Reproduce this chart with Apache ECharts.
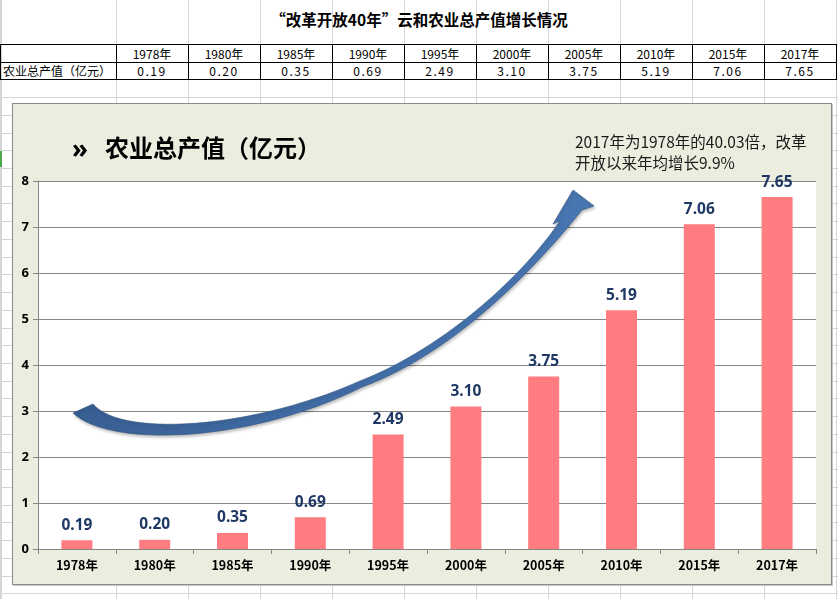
<!DOCTYPE html>
<html><head><meta charset="utf-8">
<script src="https://cdn.jsdelivr.net/npm/echarts@6/dist/echarts.min.js"></script>
<style>
html,body{margin:0;padding:0;background:#fff;width:838px;height:599px;overflow:hidden;font-family:"Noto Sans CJK SC","Noto Sans",sans-serif;}
#sheet{position:absolute;left:0;top:0;width:838px;height:599px;}
#frame{position:absolute;left:12px;top:103px;width:818px;height:480px;background:#EBEEDF;border:1px solid #8a8a8a;box-shadow:1px 1px 0 #c8c8c8;}
#chart{position:absolute;left:0;top:0;width:838px;height:599px;}
.gl{position:absolute;background:#D6D6D6;}
.bl{position:absolute;background:#000;}
.cell{position:absolute;font-size:12px;color:#000;line-height:17px;height:17px;text-align:center;white-space:nowrap;}
#title{position:absolute;left:0;width:838px;top:8px;text-align:center;font-size:15.5px;font-weight:bold;color:#000;}
</style></head>
<body>
<div id="sheet"></div>
<div id="frame"></div>
<div id="chart"></div>
<script>
const categories = ['1978年','1980年','1985年','1990年','1995年','2000年','2005年','2010年','2015年','2017年'];
const values = [0.19,0.20,0.35,0.69,2.49,3.10,3.75,5.19,7.06,7.65];
const rowLabel = '农业总产值（亿元）';
const sheetTitle = '“改革开放40年”云和农业总产值增长情况';
const chartTitle = '农业总产值（亿元）';
const noteLines = ['2017年为1978年的40.03倍，改革','开放以来年均增长9.9%'];
const yTicks = [0,1,2,3,4,5,6,7,8];

const sheet = document.getElementById('sheet');
function add(cls, l, t, w, h, txt){const d=document.createElement('div');d.className=cls;d.style.left=l+'px';d.style.top=t+'px';if(w!=null)d.style.width=w+'px';if(h!=null)d.style.height=h+'px';if(txt!=null)d.textContent=txt;sheet.appendChild(d);return d;}
const colX=[1]; for(let i=0;i<=10;i++) colX.push(116+72*i);
colX.forEach(x=>add('gl',x,0,1,599));
for(let k=0;k<34;k++){const y=Math.round(44+17.72*k); if(y<599) add('gl',0,y,838,1);}
add('gl',0,0,1,599);
const gm=add('gl',0,151,2,16); gm.style.background='#4CA64C';
const t=document.createElement('div');t.id='title';t.textContent=sheetTitle;sheet.appendChild(t);
add('bl',0,44,837,1); add('bl',0,62,837,1); add('bl',0,79,837,1);
colX.slice(1).forEach(x=>add('bl',x,44,1,36));
add('bl',0,44,1,36);
const lc=add('cell',3,62,112,null,rowLabel); lc.style.textAlign='left';
categories.forEach((c,i)=>{
  add('cell',116+72*i,45,72,null,c);
  const v=add('cell',116+72*i,62,72,null,values[i].toFixed(2)); v.style.letterSpacing='1.5px';
});

// decorative curved arrow outline (sampled cubic beziers)
function bez(p0,p1,p2,p3,n){const out=[];for(let i=0;i<=n;i++){const s=i/n,u=1-s;
  out.push([u*u*u*p0[0]+3*u*u*s*p1[0]+3*u*s*s*p2[0]+s*s*s*p3[0], u*u*u*p0[1]+3*u*u*s*p1[1]+3*u*s*s*p2[1]+s*s*s*p3[1]]);}return out;}
const arrowPts=[].concat(
  [[73,413]],
  bez([93,404],[120,437],[250,430],[360,381],30),
  bez([360,381],[440,350],[520,280],[560,221],30).slice(1),
  [[553,224],[573,190],[594,206]],
  bez([582,210],[530,275],[450,355],[362,387],30),
  bez([362,387],[250,443],[110,448],[73,413],30).slice(1)
);

const chart = echarts.init(document.getElementById('chart'));
chart.setOption({
  animation:false,
  grid:{left:38,right:22,top:181,bottom:50,show:true,backgroundColor:'#ffffff',borderWidth:0},
  xAxis:{type:'category',data:categories,
    axisLine:{lineStyle:{color:'#868686',width:1}},
    axisTick:{show:true,length:5,lineStyle:{color:'#868686'}},
    axisLabel:{color:'#000',fontWeight:'bold',fontSize:12.5,margin:10,fontFamily:'"Noto Sans CJK SC",sans-serif'}},
  yAxis:{type:'value',min:0,max:8,interval:1,
    axisLine:{show:true,lineStyle:{color:'#868686'}},
    axisTick:{show:true,length:5,lineStyle:{color:'#868686'}},
    splitLine:{lineStyle:{color:'#868686',width:1}},
    axisLabel:{color:'#000',fontWeight:'bold',fontSize:13,margin:9,fontFamily:'"Noto Sans",sans-serif',
      formatter:v=>yTicks.includes(v)?String(v):''}},
  series:[{type:'bar',data:values,barWidth:31,itemStyle:{color:'#FF7C80'},
    label:{show:true,position:'top',distance:7,color:'#1F3864',fontWeight:'bold',fontSize:15.5,fontFamily:'"Noto Sans",sans-serif',
      formatter:p=>p.value.toFixed(2)}}],
  graphic:[
    {type:'text',x:72,y:138,style:{text:'»',font:'bold 26px "Noto Sans",sans-serif',fill:'#000'}},
    {type:'text',x:105,y:136,style:{text:chartTitle,font:'bold 24px "Noto Sans CJK SC",sans-serif',fill:'#000'}},
    {type:'text',x:575,y:132,style:{text:noteLines.join('\n'),font:'15.5px "Noto Sans CJK SC",sans-serif',lineHeight:21,fill:'#1a1a1a'}},
    {type:'polygon',z:50,shape:{points:arrowPts},
      style:{fill:{type:'linear',x:0,y:0,x2:1,y2:1,colorStops:[{offset:0,color:'#34598A'},{offset:0.5,color:'#3F6AA3'},{offset:1,color:'#4E7DBA'}]},
        stroke:'#2E5280',lineWidth:0.6,shadowBlur:3,shadowColor:'rgba(0,0,0,0.25)',shadowOffsetX:1,shadowOffsetY:2}}
  ]
});
</script>
</body></html>
